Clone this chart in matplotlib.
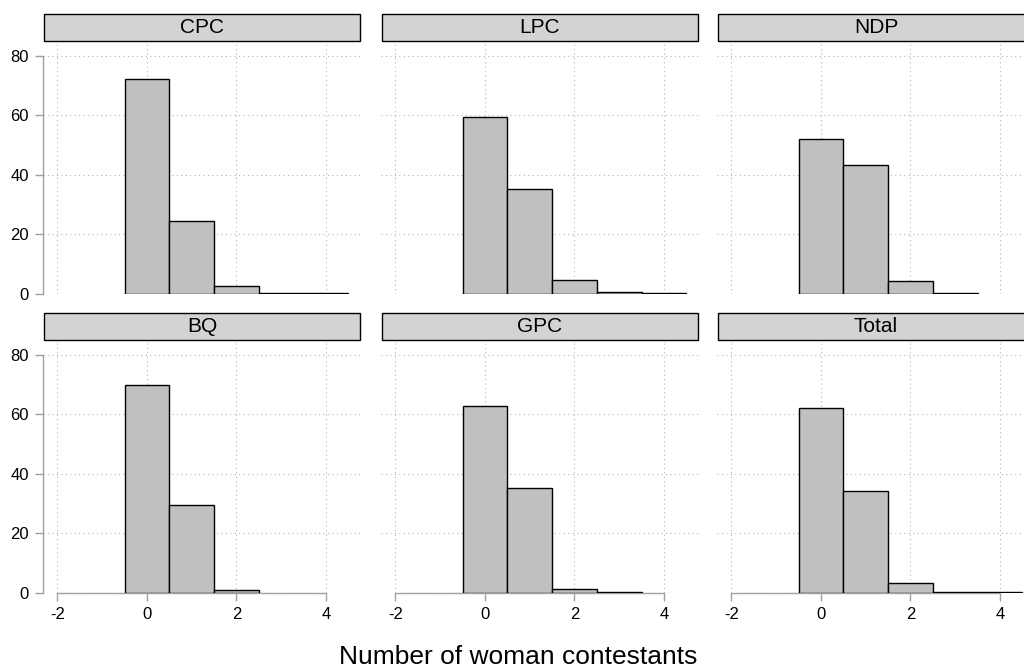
import numpy as np
import matplotlib
matplotlib.use("Agg")
import matplotlib.pyplot as plt
from matplotlib.patches import Rectangle

plt.rcParams['font.family'] = ['Liberation Sans', 'DejaVu Sans']

# share of candidates (%) by number of woman contestants
parties = ['CPC', 'LPC', 'NDP', 'BQ', 'GPC', 'Total']
counts = [0, 1, 2, 3, 4]
cpc = [72.4, 24.6, 2.7, 0.2, 0.2]
lpc = [59.5, 35.3, 4.7, 0.6, 0.2]
ndp = [52.1, 43.3, 4.4, 0.3, 0.0]
bq = [69.8, 29.5, 1.1, 0.0, 0.0]
gpc = [62.9, 35.4, 1.4, 0.3, 0.0]
total = [62.2, 34.4, 3.4, 0.4, 0.2]
series = [cpc, lpc, ndp, bq, gpc, total]

xticks = [-2, 0, 2, 4]
yticks = [0, 20, 40, 60, 80]

W, H = 1024, 671
fig = plt.figure(figsize=(W / 100, H / 100), dpi=100)

col_left = [43, 381, 717]
ax_w = 318
row_top = [42, 341]
ax_h = 252
strip_h = 29
grey = '#a0a0a0'

for i, (name, vals) in enumerate(zip(parties, series)):
    r, c = divmod(i, 3)
    left = col_left[c] / W
    bottom = (H - row_top[r] - ax_h) / H
    ax = fig.add_axes([left, bottom, ax_w / W, ax_h / H])
    ax.set_xlim(-2.32, 4.78)
    ax.set_ylim(0, 84.7)
    vals = np.array(vals)
    keep = vals > 0
    ax.bar(np.array(counts)[keep], vals[keep], width=1.0, color='#c0c0c0',
           edgecolor='black', linewidth=1.0, zorder=3)
    ax.set_xticks(xticks)
    ax.set_yticks(yticks)
    ax.grid(True, linestyle=(0, (1, 3)), color='#b4b4b4', linewidth=0.8, zorder=0)
    for s in ['top', 'right']:
        ax.spines[s].set_visible(False)
    ax.spines['left'].set_bounds(0, 80)
    ax.spines['bottom'].set_bounds(-2, 4)
    for s in ['left', 'bottom']:
        ax.spines[s].set_color(grey)
        ax.spines[s].set_linewidth(1.0)
    ax.tick_params(colors=grey, labelcolor='black', labelsize=12, length=6,
                   width=1.0, pad=4)
    if c != 0:
        ax.spines['left'].set_visible(False)
        ax.tick_params(axis='y', left=False, labelleft=False)
    if r == 0:
        ax.spines['bottom'].set_visible(False)
        ax.tick_params(axis='x', bottom=False, labelbottom=False)
    ax.set_xticklabels([str(t) for t in xticks])

    # panel header
    sax = fig.add_axes([left, (H - row_top[r]) / H, ax_w / W, strip_h / H])
    sax.set_xlim(0, 1)
    sax.set_ylim(0, 1)
    sax.axis('off')
    sax.add_patch(Rectangle((0.002, 0.03), 0.996, 0.94, facecolor='#d3d3d3',
                            edgecolor='black', linewidth=1.0,
                            transform=sax.transAxes, clip_on=False))
    sax.text(0.5, 0.5, name, ha='center', va='center', fontsize=15)

fig.text(518 / W, 1 - 657 / H, 'Number of woman contestants', ha='center', va='center',
         fontsize=19)

fig.savefig('out.png', dpi=100)
